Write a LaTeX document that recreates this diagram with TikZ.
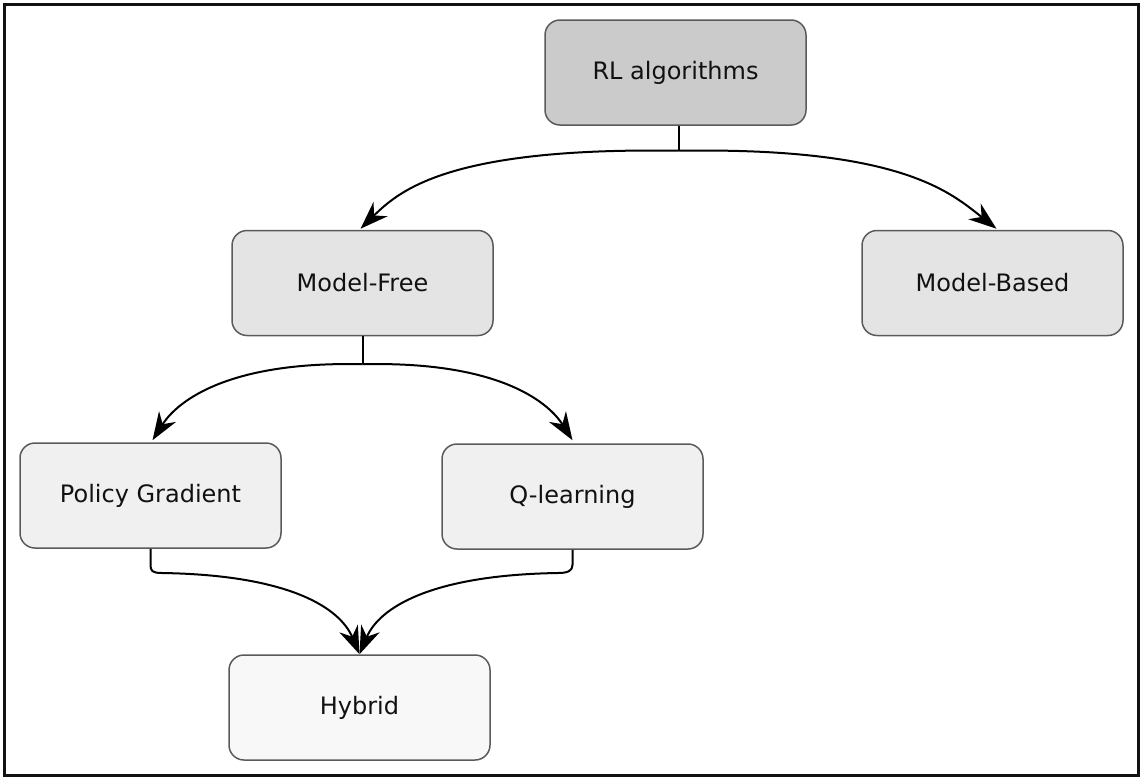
\documentclass[tikz,border=0pt]{standalone}
\usepackage{fontspec}
\setmainfont{DejaVu Sans}
\usetikzlibrary{arrows.meta,calc}
\definecolor{fillA}{HTML}{CBCBCB}
\definecolor{fillB}{HTML}{E4E4E4}
\definecolor{fillC}{HTML}{F0F0F0}
\definecolor{fillD}{HTML}{F8F8F8}
\definecolor{edgegray}{HTML}{5A5A5A}
\definecolor{txt}{HTML}{111111}
\tikzset{
  algbox/.style={draw=edgegray, line width=0.75pt, rounded corners=7.5pt,
    minimum width=130.5pt, minimum height=52.5pt, inner sep=0pt,
    font=\fontsize{12pt}{14pt}\selectfont, text=txt},
  conn/.style={line width=1pt, draw=black},
  arr/.style={conn, -{Stealth[length=14pt,width=10pt,inset=4.5pt]}},
}
\begin{document}
\begin{tikzpicture}[x=0.5pt,y=-0.5pt]
\useasboundingbox (0,0) rectangle (1141,777);
\draw[line width=1.5pt, draw=black!93] (4.5,4.5) rectangle (1138.5,775);

\node[algbox, fill=fillA] (RL) at (675.5,72.5) {RL algorithms};
\node[algbox, fill=fillB] (MF) at (362.5,283) {Model-Free};
\node[algbox, fill=fillB] (MB) at (992.5,283) {Model-Based};
\node[algbox, fill=fillC] (PG) at (150.5,495.5) {Policy Gradient};
\node[algbox, fill=fillC] (QL) at (572.5,496.5) {Q-learning};
\node[algbox, fill=fillD] (HY) at (359.5,707.5) {Hybrid};

% RL algorithms -> Model-Free / Model-Based
\coordinate (j1) at ($(RL.south)+(3,25)$);
\draw[conn] ($(RL.south)+(3,0)$) -- (j1);
\draw[arr] (j1) .. controls (450,147) and (400,190) .. ($(MF.north)+(-2,-1)$);
\draw[arr] (j1) .. controls (900,147) and (950,192) .. ($(MB.north)+(4,-1)$);

% Model-Free -> Policy Gradient / Q-learning
\coordinate (j2) at ($(MF.south)+(0,28)$);
\draw[conn] (MF.south) -- (j2);
\draw[arr] (j2) .. controls (230,361) and (178,400) .. ($(PG.north)+(2,-2)$);
\draw[arr] (j2) .. controls (495,361) and (547,400) .. ($(QL.north)+(0,-3)$);

% Policy Gradient / Q-learning -> Hybrid
\draw[arr] (PG.south) -- ++(0,16) .. controls ++(0,6) and (152,573) .. (162,573)
  .. controls (290,575) and (340,608) .. (HY.north);
\draw[arr] (QL.south) -- ++(0,15) .. controls ++(0,6) and (568,573) .. (558,573)
  .. controls (430,575) and (379,608) .. (HY.north);
\end{tikzpicture}
\end{document}
